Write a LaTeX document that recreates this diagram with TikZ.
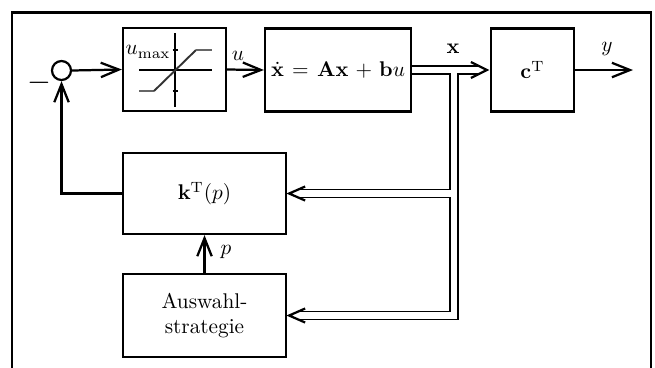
\documentclass[tikz,border=0pt]{standalone}
\usetikzlibrary{arrows.meta,calc}
\newlength\pxu
\setlength\pxu{0.47pt}
\begin{document}
\begin{tikzpicture}[x=0.47pt,y=-0.47pt,line width=1.05pt,
  blk/.style={draw,line width=1.05pt,minimum height=83\pxu,inner sep=0pt},
  sig/.style={-{Straight Barb[length=8.5pt,width=6.8pt]}},
  dl/.style={line width=0.85pt},
  tipl/.style={line width=1.05pt,line join=miter}]
\useasboundingbox (0,0) rectangle (655,367);
% frame
\draw[line width=1.1pt] (12,370) -- (12,12.5) -- (651,12.5) -- (651,370);
% blocks
\node[circle,draw,minimum size=19\pxu,inner sep=0pt] (sum) at (61.5,70.5) {};
\node[blk,minimum width=146\pxu] (plant) at (338,70) {$\dot{\mathbf{x}}\mkern2mu=\mkern2mu\mathbf{A}\mathbf{x}\mkern2mu+\mkern2mu\mathbf{b}u$};
\node[blk,minimum width=103\pxu] (sat) at (174.5,69.5) {};
\node[blk,minimum width=83\pxu] (ct) at (532.5,70) {$\mathbf{c}^{\mathrm{T}}$};
\node[blk,minimum width=163\pxu,minimum height=81\pxu] (k) at (204.5,193.5) {$\mathbf{k}^{\mathrm{T}}(p)$};
\node[blk,minimum width=163\pxu,align=center] (aw) at (204.5,315.5) {Auswahl-\\strategie};
\coordinate (J) at (454,70);
\coordinate (yend) at (633,70);
% saturation characteristic
\draw[line width=0.6pt] (139,70) -- (212,70);
\draw[line width=0.6pt] (175,33) -- (175,107);
\draw[line width=0.6pt] (172.5,50) -- (177.5,50);
\draw[line width=0.6pt] (172.5,91) -- (177.5,91);
\draw[line width=0.9pt,black!60] (139,91) -- (154,91);
\draw[line width=0.9pt,black!80] (154,91) -- (196,50);
\draw[line width=0.9pt,black!60] (196,50) -- (212,50);
\node (umax) at (148,52) {$u_{\max}$};
% single signal lines
\draw[sig] (sum.east) -- (sat.west);
\draw[sig] (sat.east) -- (plant.west);
\node (ulab) at (238,56) {$u$};
\draw[sig] (ct.east) -- (yend);
\node (ylab) at (607,49) {$y$};
\draw[sig] (k.west) -| (sum.south);
\draw[sig] (aw.north) -- (k.south);
\node (plab) at (226,252) {$p$};
\node (minus) at (39,83) {\Large$-$};
% double lines
\node (xlab) at (453,49) {$\mathbf{x}$};
\draw[dl] ($(plant.east)+(0,-4)$) -- ($(ct.west)+(-11,-4)$);
\draw[dl,line join=miter] ($(plant.east)+(0,4)$) -| ($(k.east -| J)+(-4,-4)$) -- ($(k.east)+(10,-4)$);
\draw[dl,line join=miter] ($(ct.west)+(-11,4)$) -- ($(plant.east -| J)+(4,4)$) |- ($(aw.east)+(10,4)$);
\draw[dl,line join=miter] ($(k.east)+(10,4)$) -| ($(aw.east -| J)+(-4,-4)$) -- ($(aw.east)+(10,-4)$);
% double-line arrow heads
\draw[tipl] ($(ct.west)+(-19,-8)$) -- ($(ct.west)+(-3,0)$) -- ($(ct.west)+(-19,8)$);
\draw[tipl] ($(k.east)+(18,-7)$) -- ($(k.east)+(2,0)$) -- ($(k.east)+(18,7)$);
\draw[tipl] ($(aw.east)+(18,-7)$) -- ($(aw.east)+(2,0)$) -- ($(aw.east)+(18,7)$);
\end{tikzpicture}
\end{document}
